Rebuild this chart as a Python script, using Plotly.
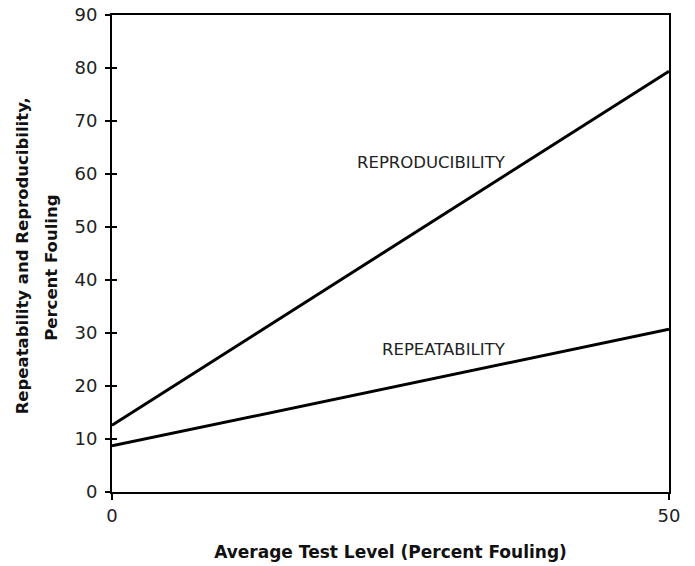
import plotly.graph_objects as go

# Data
x_level = [0, 50]
reproducibility = [12.6, 79.4]
repeatability = [8.7, 30.7]
y_ticks = [0, 10, 20, 30, 40, 50, 60, 70, 80, 90]
x_ticks = [0, 50]

FONT = "Tahoma, Verdana, DejaVu Sans, sans-serif"

fig = go.Figure()
fig.add_trace(go.Scatter(x=x_level, y=reproducibility, mode="lines",
                         line=dict(color="black", width=3), showlegend=False))
fig.add_trace(go.Scatter(x=x_level, y=repeatability, mode="lines",
                         line=dict(color="black", width=3), showlegend=False))
# dummy on overlay axis for inside ticks
fig.add_trace(go.Scatter(x=[0], y=[0], mode="markers", marker=dict(opacity=0),
                         yaxis="y2", showlegend=False, hoverinfo="skip"))

fig.add_annotation(x=28.7, y=62.1, text="REPRODUCIBILITY", showarrow=False,
                   font=dict(family=FONT, size=16.5, color="#222"))
fig.add_annotation(x=29.8, y=26.8, text="REPEATABILITY", showarrow=False,
                   font=dict(family=FONT, size=16.5, color="#222"))

PW = 695 - 112 - 26
fig.add_annotation(xref="paper", yref="paper", x=(22 - 112) / PW, y=0.494,
                   text="<b>Repeatability and Reproducibility,</b>",
                   textangle=-90, showarrow=False, xanchor="center", yanchor="middle",
                   font=dict(family=FONT, size=16.5, color="#111"))
fig.add_annotation(xref="paper", yref="paper", x=(52 - 112) / PW, y=0.47,
                   text="<b>Percent Fouling</b>",
                   textangle=-90, showarrow=False, xanchor="center", yanchor="middle",
                   font=dict(family=FONT, size=16.5, color="#111"))

fig.update_layout(
    width=695, height=566,
    margin=dict(l=112, r=26, t=15, b=74),
    plot_bgcolor="white", paper_bgcolor="white",
    font=dict(family=FONT, color="#222"),
    xaxis=dict(range=[0, 50], tickvals=x_ticks, ticks="outside", ticklen=6,
               tickcolor="black", tickwidth=2, automargin=False,
               showline=True, linecolor="black", linewidth=2, mirror=True,
               showgrid=False, zeroline=False,
               tickfont=dict(family=FONT, size=18, color="#222"),
               title=dict(text="<b>Average Test Level (Percent Fouling)</b>",
                          font=dict(family=FONT, size=17, color="#111"), standoff=22)),
    yaxis=dict(range=[0, 90], tickvals=y_ticks, ticks="outside", ticklen=5,
               tickcolor="black", tickwidth=2, automargin=False,
               showline=True, linecolor="black", linewidth=2, mirror=True,
               showgrid=False, zeroline=False, ticklabelstandoff=4,
               tickfont=dict(family=FONT, size=18, color="#222")),
    yaxis2=dict(range=[0, 90], tickvals=y_ticks, ticks="inside", ticklen=5,
                tickcolor="black", tickwidth=2, overlaying="y", side="left",
                showticklabels=False, showgrid=False, zeroline=False, showline=False,
                automargin=False),
)

fig.write_html("out.html", config={"displayModeBar": False},
               post_script="document.body.style.margin='0';document.body.style.padding='0';")
